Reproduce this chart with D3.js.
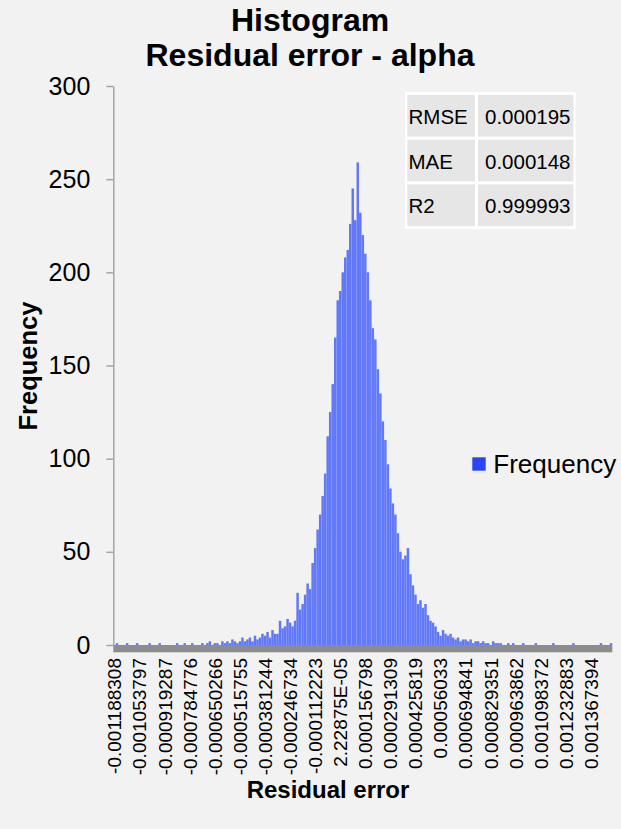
<!DOCTYPE html>
<html>
<head>
<meta charset="utf-8">
<script src="https://cdn.jsdelivr.net/npm/d3@7"></script>
<style>
  html, body { margin: 0; padding: 0; background: #f2f2f2; }
  svg { display: block; font-family: "Liberation Sans", Arial, sans-serif; }
</style>
</head>
<body>
<svg id="chart" width="621" height="829"></svg>
<script>
// Residual-error histogram: frequency per bin, left to right
const freq = [
  0,1,0,0,0, 1,0,0,0,1, 0,0,0,0,1, 0,0,0,1,0, 0,0,0,0,0, 1,0,0,1,0, 0,1,0,0,0,
  1,0,1,2,0, 1,1,0,2,1, 2,1,3,2,1, 2,4,2,
  3,4,2,5,3,4,6,
  5,7,4,8,6,
  6,13,9,
  10,14,
  12,10,13,28,
  19,22,
  27,33,30,
  44,
  52,62,
  70,80,
  92,112,
  125,
  140,
  165,
  185,
  190,200,
  208,212,
  226,
  245,
  228,
  259,
  232,220,
  210,
  200,
  185,170,
  164,
  148,
  135,120,
  110,
  97,
  84,76,
  70,
  60,
  50,46,
  48,52,
  38,
  32,27,
  22,24,
  20,22,
  16,13,
  12,10,
  7,5,
  8,6,
  5,6,4,
  3,4,2,3,3,
  2,3,1,2,2,
  1,2,1,1,0,2,1,1,
  1,0,0,1,0, 1,0,0,0,1, 0,0,0,0,1, 0,0,0,0,0, 0,1,0,0,0, 0,0,0,0,1, 0,0,0,0,0, 0,0,0,0,0, 1,0,0,0,1
];

// Bin labels shown on the category axis (every tenth bin)
const tickLabels = [
  "-0.001188308","-0.001053797","-0.000919287","-0.000784776","-0.000650266",
  "-0.000515755","-0.000381244","-0.000246734","-0.000112223","2.22875E-05",
  "0.000156798","0.000291309","0.000425819","0.00056033","0.000694841",
  "0.000829351","0.000963862","0.001098372","0.001232883","0.001367394"
];
const labelEvery = 10;

const yTicks = [0, 50, 100, 150, 200, 250, 300];

// Goodness-of-fit summary
const metricNames = ["RMSE", "MAE", "R2"];
const metricValues = ["0.000195", "0.000148", "0.999993"];

const titleLines = ["Histogram", "Residual error - alpha"];
const seriesName = "Frequency";

const svg = d3.select("#chart");
svg.append("rect").attr("width", 621).attr("height", 829).attr("fill", "#f2f2f2");

const plot = { left: 113.3, right: 612.3, top: 86, bottom: 645 };

const x = d3.scaleBand()
  .domain(d3.range(freq.length))
  .range([plot.left, plot.right])
  .padding(0);

const y = d3.scaleLinear()
  .domain([0, 300])
  .range([plot.bottom, plot.top]);

// Bars
svg.append("g")
  .selectAll("rect")
  .data(freq)
  .join("rect")
  .attr("x", (d, i) => x(i))
  .attr("width", x.bandwidth())
  .attr("y", d => y(d))
  .attr("height", d => y(0) - y(d))
  .attr("fill", "#6279f7");

// Value axis
const yAxis = svg.append("g")
  .attr("transform", `translate(${plot.left},0)`)
  .call(d3.axisLeft(y).tickValues(yTicks).tickSize(7).tickSizeOuter(0).tickPadding(16));
yAxis.select(".domain").attr("stroke", "#a6a6a6").attr("stroke-width", 1.5);
yAxis.selectAll(".tick line").attr("stroke", "#a6a6a6").attr("stroke-width", 1.5);
yAxis.selectAll(".tick text")
  .attr("fill", "#000")
  .style("font-size", "25px")
  .style("font-family", "'Liberation Sans', Arial, sans-serif");

// Category axis: thick baseline band plus rotated bin labels
svg.append("rect")
  .attr("x", plot.left)
  .attr("y", y(0))
  .attr("width", plot.right - plot.left)
  .attr("height", 7.3)
  .attr("fill", "#8c8c8c");

const labelIdx = d3.range(0, freq.length, labelEvery).slice(0, tickLabels.length);
const xAxis = svg.append("g")
  .attr("transform", `translate(0,658)`)
  .call(d3.axisBottom(x)
    .tickValues(labelIdx)
    .tickFormat(i => tickLabels[i / labelEvery])
    .tickSize(0)
    .tickPadding(0));
xAxis.select(".domain").remove();
xAxis.selectAll(".tick text")
  .attr("x", 0)
  .attr("y", 0)
  .attr("dy", "0.36em")
  .attr("transform", "rotate(-90)")
  .attr("fill", "#000")
  .style("text-anchor", "end")
  .style("font-size", "19px")
  .style("font-family", "'Liberation Sans', Arial, sans-serif");

// Titles
svg.append("g")
  .selectAll("text")
  .data(titleLines)
  .join("text")
  .attr("x", 310)
  .attr("y", (d, i) => 31 + i * 35)
  .attr("text-anchor", "middle")
  .style("font-size", "32px")
  .style("font-weight", "bold")
  .text(d => d);

svg.append("text")
  .attr("transform", "translate(37,366) rotate(-90)")
  .attr("text-anchor", "middle")
  .style("font-size", "25.5px")
  .style("font-weight", "bold")
  .text("Frequency");

svg.append("text")
  .attr("x", 328)
  .attr("y", 798)
  .attr("text-anchor", "middle")
  .style("font-size", "24px")
  .style("font-weight", "bold")
  .text("Residual error");

// Legend
const legend = svg.append("g").attr("transform", "translate(472.3,457.3)");
legend.append("rect").attr("width", 13.4).attr("height", 13.4).attr("fill", "#2b45f2");
legend.append("text")
  .attr("x", 21)
  .attr("y", 6.7)
  .attr("dy", "0.35em")
  .style("font-size", "26px")
  .text(seriesName);

// Metrics table
const table = { x: 405, y: 92, w: 170.7, rowH: 41.7, gap: 3, col1W: 67.7 };
const tg = svg.append("g");
tg.append("rect")
  .attr("x", table.x).attr("y", table.y)
  .attr("width", table.w)
  .attr("height", table.gap + metricNames.length * (table.rowH + table.gap))
  .attr("fill", "#ffffff");
metricNames.forEach((name, r) => {
  const ry = table.y + table.gap + r * (table.rowH + table.gap);
  tg.append("rect")
    .attr("x", table.x + 2.3).attr("y", ry)
    .attr("width", table.col1W).attr("height", table.rowH)
    .attr("fill", "#e6e6e6");
  tg.append("rect")
    .attr("x", table.x + 2.3 + table.col1W + table.gap).attr("y", ry)
    .attr("width", table.w - table.col1W - table.gap - 4.6).attr("height", table.rowH)
    .attr("fill", "#e6e6e6");
  tg.append("text")
    .attr("x", table.x + 3.5).attr("y", ry + table.rowH / 2 + 1)
    .attr("dy", "0.35em")
    .style("font-size", "20.5px")
    .text(name);
  tg.append("text")
    .attr("x", table.x + 80).attr("y", ry + table.rowH / 2 + 1)
    .attr("dy", "0.35em")
    .style("font-size", "20.5px")
    .text(metricValues[r]);
});
</script>
</body>
</html>
